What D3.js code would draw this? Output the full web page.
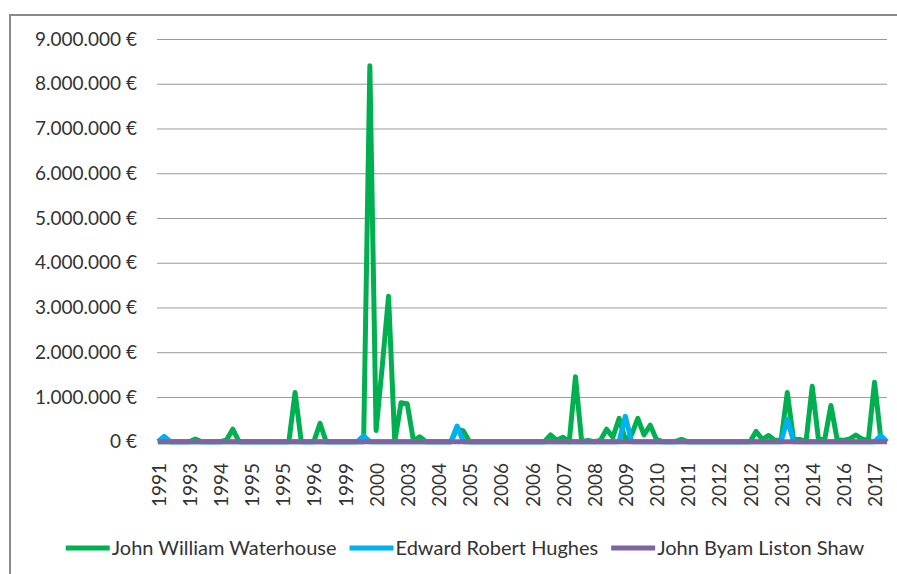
<!DOCTYPE html>
<html>
<head>
<meta charset="utf-8">
<script src="https://cdn.jsdelivr.net/npm/d3@7"></script>
<style>
  body { margin: 0; background: #fff; }
  svg { display: block; font-family: Lato, "Open Sans", sans-serif; }
</style>
</head>
<body>
<div id="lineChart"></div>
<script>
// sale prices in euros, one value per sale (chronological); only every 5th category is labelled
var tickLabels = ["1991", "1993", "1994", "1995", "1995", "1996", "1999", "2000", "2003", "2004",
  "2005", "2006", "2006", "2007", "2008", "2009", "2010", "2011", "2012", "2012",
  "2013", "2014", "2016", "2017"];
var labelEvery = 5;

var waterhouse = [
  0, 0, 0, 0, 0, 0, 60000, 0, 0, 0,
  0, 40000, 280000, 0, 0, 0, 0, 0, 0, 0,
  0, 0, 1100000, 0, 0, 0, 410000, 0, 0, 0,
  0, 0, 0, 0, 8400000, 250000, 1700000, 3250000, 0, 870000,
  850000, 20000, 110000, 0, 0, 0, 0, 0, 280000, 240000,
  0, 0, 0, 0, 0, 0, 0, 0, 0, 0,
  0, 0, 0, 150000, 30000, 100000, 0, 1450000, 0, 30000,
  0, 30000, 280000, 100000, 520000, 50000, 150000, 520000, 150000, 370000,
  50000, 0, 0, 0, 50000, 0, 0, 0, 0, 0,
  0, 0, 0, 0, 0, 0, 230000, 50000, 140000, 30000,
  30000, 1100000, 50000, 50000, 0, 1240000, 50000, 50000, 810000, 50000,
  30000, 60000, 150000, 60000, 20000, 1330000, 80000, 0
];
var hughes = [
  0, 120000, 0, 0, 0, 0, 0, 0, 0, 0,
  0, 0, 0, 0, 0, 0, 0, 0, 0, 0,
  0, 0, 0, 0, 0, 0, 0, 0, 0, 0,
  0, 0, 0, 130000, 0, 0, 0, 0, 0, 0,
  0, 0, 0, 0, 0, 0, 0, 0, 350000, 0,
  0, 0, 0, 0, 0, 0, 0, 0, 0, 0,
  0, 0, 0, 0, 0, 0, 0, 0, 0, 0,
  0, 0, 0, 0, 0, 570000, 0, 0, 0, 0,
  0, 0, 0, 0, 0, 0, 0, 0, 0, 0,
  0, 0, 0, 0, 0, 0, 0, 0, 0, 0,
  0, 500000, 0, 0, 0, 0, 0, 0, 0, 0,
  0, 0, 0, 0, 0, 0, 140000, 0
];
var shaw = [
  0, 0, 0, 0, 0, 0, 0, 0, 0, 0,
  0, 0, 0, 0, 0, 0, 0, 0, 0, 0,
  0, 0, 0, 0, 0, 0, 0, 0, 0, 0,
  0, 0, 0, 0, 0, 0, 0, 0, 0, 0,
  0, 0, 0, 0, 0, 0, 0, 0, 0, 0,
  0, 0, 0, 0, 0, 0, 0, 0, 0, 0,
  0, 0, 0, 0, 0, 0, 0, 0, 0, 0,
  0, 0, 0, 0, 0, 0, 0, 0, 0, 0,
  0, 0, 0, 0, 0, 0, 0, 0, 0, 0,
  0, 0, 0, 0, 0, 0, 0, 0, 0, 0,
  0, 0, 0, 0, 0, 0, 0, 0, 0, 0,
  0, 0, 0, 0, 0, 0, 0, 0
];
var yTicks = [0, 1000000, 2000000, 3000000, 4000000, 5000000, 6000000, 7000000, 8000000, 9000000];

var series = [
  {name: "John William Waterhouse", values: waterhouse, color: "#00b050"},
  {name: "Edward Robert Hughes", values: hughes, color: "#00b0f0"},
  {name: "John Byam Liston Shaw", values: shaw, color: "#8064a2"}
];

var width = 897, height = 574;
var plot = {left: 158, right: 887, top: 39, bottom: 441.7};

var svg = d3.select("#lineChart").append("svg")
    .attr("width", width)
    .attr("height", height);

// chart frame (only top and left edges are in the picture)
svg.append("rect")
    .attr("x", 10).attr("y", 15)
    .attr("width", 1000).attr("height", 1000)
    .attr("fill", "none")
    .attr("stroke", "#8a8a8a")
    .attr("stroke-width", 2);

var x = d3.scalePoint()
    .domain(d3.range(waterhouse.length))
    .range([plot.left, plot.right]);

var y = d3.scaleLinear()
    .domain([0, 9000000])
    .range([plot.bottom, plot.top]);

var euro = d3.formatLocale({decimal: ",", thousands: ".", grouping: [3], currency: ["", "\u00a0€"]}).format("$,.0f");

// gridlines + y labels
var yAxis = d3.axisLeft(y)
    .tickValues(yTicks)
    .tickFormat(euro)
    .tickSize(-(plot.right - plot.left + 1))
    .tickPadding(20);

var gy = svg.append("g")
    .attr("transform", "translate(" + (plot.left - 1) + ",0)")
    .call(yAxis);
gy.select(".domain").remove();
gy.selectAll(".tick line").attr("stroke", "#9a9a9a");
gy.selectAll(".tick text")
    .attr("fill", "#333")
    .style("font-size", "19px")
    .style("font-family", "Lato, sans-serif");

// category labels, rotated
var labelIdx = d3.range(0, waterhouse.length, labelEvery).slice(0, tickLabels.length);
svg.append("g").selectAll("text")
    .data(labelIdx)
  .enter().append("text")
    .attr("transform", function(d) { return "translate(" + (x(d) + 1) + ",463) rotate(-90)"; })
    .attr("text-anchor", "end")
    .attr("dy", "0.35em")
    .attr("fill", "#333")
    .style("font-size", "19px")
    .text(function(d, i) { return tickLabels[i]; });

var line = d3.line()
    .x(function(d, i) { return x(i); })
    .y(function(d) { return y(d); });

svg.append("g").selectAll("path")
    .data(series)
  .enter().append("path")
    .attr("d", function(d) { return line(d.values); })
    .attr("fill", "none")
    .attr("stroke", function(d) { return d.color; })
    .attr("stroke-width", 5)
    .attr("stroke-linejoin", "round");

// legend
var legend = svg.append("g").attr("class", "legend");
var lx = 0;
series.forEach(function(s) {
  var item = legend.append("g").attr("transform", "translate(" + lx + ",0)");
  item.append("line")
      .attr("x1", 0).attr("x2", 44)
      .attr("stroke", s.color)
      .attr("stroke-width", 5);
  var t = item.append("text")
      .attr("x", 46)
      .attr("dy", "0.35em")
      .attr("fill", "#333")
      .style("font-size", "20px")
      .text(s.name);
  lx += 46 + t.node().getComputedTextLength() + 13;
});
legend.attr("transform", "translate(" + (465 - (lx - 13) / 2) + ",548)");
</script>
</body>
</html>
